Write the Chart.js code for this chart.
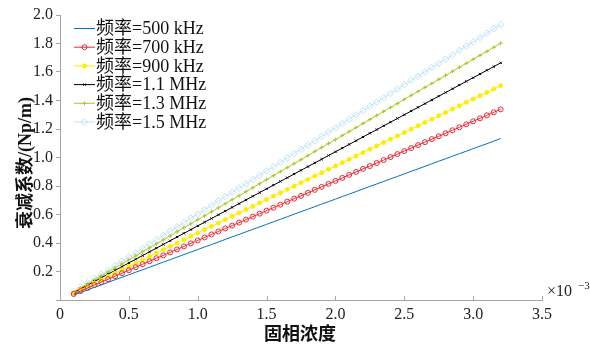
<!DOCTYPE html>
<html>
<head>
<meta charset="utf-8">
<script src="https://cdn.jsdelivr.net/npm/chart.js"></script>
<style>
  html, body { margin: 0; padding: 0; background: #fff; }
  #wrap { width: 590px; height: 347px; }
</style>
</head>
<body>
<div id="wrap"><canvas id="chart" width="590" height="347"></canvas></div>
<script>
// solid concentration (x10^-3)
const concentration = [
  0.10, 0.15, 0.20, 0.25, 0.30, 0.35, 0.40, 0.45, 0.50, 0.55, 0.60, 0.65, 0.70, 0.75, 0.80, 0.85,
  0.90, 0.95, 1.00, 1.05, 1.10, 1.15, 1.20, 1.25, 1.30, 1.35, 1.40, 1.45, 1.50, 1.55, 1.60, 1.65,
  1.70, 1.75, 1.80, 1.85, 1.90, 1.95, 2.00, 2.05, 2.10, 2.15, 2.20, 2.25, 2.30, 2.35, 2.40, 2.45,
  2.50, 2.55, 2.60, 2.65, 2.70, 2.75, 2.80, 2.85, 2.90, 2.95, 3.00, 3.05, 3.10, 3.15, 3.20
];

const seriesNames = ["频率=500 kHz", "频率=700 kHz", "频率=900 kHz", "频率=1.1 MHz", "频率=1.3 MHz", "频率=1.5 MHz"];

// attenuation coefficient (Np/m)
const att500k = [
  0.035, 0.053, 0.071, 0.089, 0.106, 0.124, 0.142, 0.159, 0.177, 0.195, 0.212, 0.230, 0.248, 0.266, 0.283, 0.301,
  0.319, 0.336, 0.354, 0.372, 0.389, 0.407, 0.425, 0.443, 0.460, 0.478, 0.496, 0.513, 0.531, 0.549, 0.566, 0.584,
  0.602, 0.620, 0.637, 0.655, 0.673, 0.690, 0.708, 0.726, 0.743, 0.761, 0.779, 0.797, 0.814, 0.832, 0.850, 0.867,
  0.885, 0.903, 0.920, 0.938, 0.956, 0.974, 0.991, 1.009, 1.027, 1.044, 1.062, 1.080, 1.097, 1.115, 1.133
];
const att700k = [
  0.042, 0.063, 0.084, 0.105, 0.125, 0.146, 0.167, 0.188, 0.209, 0.230, 0.251, 0.272, 0.293, 0.313, 0.334, 0.355,
  0.376, 0.397, 0.418, 0.439, 0.460, 0.481, 0.502, 0.522, 0.543, 0.564, 0.585, 0.606, 0.627, 0.648, 0.669, 0.690,
  0.711, 0.731, 0.752, 0.773, 0.794, 0.815, 0.836, 0.857, 0.878, 0.899, 0.920, 0.940, 0.961, 0.982, 1.003, 1.024,
  1.045, 1.066, 1.087, 1.108, 1.129, 1.149, 1.170, 1.191, 1.212, 1.233, 1.254, 1.275, 1.296, 1.317, 1.338
];
const att900k = [
  0.047, 0.071, 0.094, 0.118, 0.141, 0.165, 0.188, 0.212, 0.235, 0.259, 0.282, 0.306, 0.329, 0.353, 0.376, 0.400,
  0.423, 0.447, 0.470, 0.494, 0.517, 0.541, 0.564, 0.588, 0.611, 0.635, 0.658, 0.682, 0.705, 0.729, 0.752, 0.776,
  0.799, 0.823, 0.846, 0.870, 0.893, 0.917, 0.940, 0.964, 0.987, 1.011, 1.034, 1.058, 1.081, 1.105, 1.128, 1.152,
  1.175, 1.199, 1.222, 1.246, 1.269, 1.293, 1.316, 1.340, 1.363, 1.387, 1.410, 1.434, 1.457, 1.481, 1.504
];
const att1_1M = [
  0.052, 0.078, 0.104, 0.130, 0.156, 0.182, 0.208, 0.234, 0.260, 0.286, 0.312, 0.338, 0.364, 0.390, 0.416, 0.442,
  0.468, 0.494, 0.520, 0.546, 0.572, 0.598, 0.624, 0.650, 0.676, 0.702, 0.728, 0.754, 0.780, 0.806, 0.832, 0.858,
  0.884, 0.910, 0.936, 0.962, 0.988, 1.014, 1.040, 1.066, 1.092, 1.118, 1.144, 1.170, 1.196, 1.222, 1.248, 1.274,
  1.300, 1.326, 1.352, 1.378, 1.404, 1.430, 1.456, 1.482, 1.508, 1.534, 1.560, 1.586, 1.612, 1.638, 1.664
];
const att1_3M = [
  0.056, 0.084, 0.113, 0.141, 0.169, 0.197, 0.225, 0.253, 0.282, 0.310, 0.338, 0.366, 0.394, 0.422, 0.450, 0.479,
  0.507, 0.535, 0.563, 0.591, 0.619, 0.647, 0.676, 0.704, 0.732, 0.760, 0.788, 0.816, 0.845, 0.873, 0.901, 0.929,
  0.957, 0.985, 1.013, 1.042, 1.070, 1.098, 1.126, 1.154, 1.182, 1.210, 1.239, 1.267, 1.295, 1.323, 1.351, 1.379,
  1.408, 1.436, 1.464, 1.492, 1.520, 1.548, 1.576, 1.605, 1.633, 1.661, 1.689, 1.717, 1.745, 1.773, 1.802
];
const att1_5M = [
  0.060, 0.091, 0.121, 0.151, 0.181, 0.211, 0.242, 0.272, 0.302, 0.332, 0.362, 0.393, 0.423, 0.453, 0.483, 0.513,
  0.544, 0.574, 0.604, 0.634, 0.664, 0.695, 0.725, 0.755, 0.785, 0.815, 0.846, 0.876, 0.906, 0.936, 0.966, 0.997,
  1.027, 1.057, 1.087, 1.117, 1.148, 1.178, 1.208, 1.238, 1.268, 1.299, 1.329, 1.359, 1.389, 1.419, 1.450, 1.480,
  1.510, 1.540, 1.570, 1.601, 1.631, 1.661, 1.691, 1.721, 1.752, 1.782, 1.812, 1.842, 1.872, 1.903, 1.933
];

const serif = '"Liberation Serif", "Noto Sans CJK SC", serif';
const axisGrey = "#a6a6a6";

function toPoints(ys) {
  return concentration.map((x, i) => ({ x: x, y: ys[i] }));
}

const styles = [
  { color: "rgb(0,114,189)", pointStyle: "circle", radius: 0, fill: "rgb(0,114,189)" },
  { color: "rgb(240,40,50)", pointStyle: "circle", radius: 2.5, fill: "rgba(255,255,255,0)" },
  { color: "rgb(255,236,0)", pointStyle: "circle", radius: 2, fill: "rgb(255,236,0)" },
  { color: "rgb(0,0,0)", pointStyle: "crossRot", radius: 1.6, fill: "rgb(0,0,0)" },
  { color: "rgb(168,200,40)", pointStyle: "cross", radius: 2, fill: "rgb(168,200,40)" },
  { color: "rgb(190,226,246)", pointStyle: "rectRot", radius: 3.3, fill: "rgba(255,255,255,0)" }
];
const allSeries = [att500k, att700k, att900k, att1_1M, att1_3M, att1_5M];

const datasets = allSeries.map((ys, i) => ({
  label: seriesNames[i],
  data: toPoints(ys),
  borderColor: styles[i].color,
  backgroundColor: styles[i].fill,
  borderWidth: 1,
  pointStyle: styles[i].pointStyle,
  pointRadius: styles[i].radius,
  pointBorderColor: styles[i].color,
  pointBackgroundColor: styles[i].fill,
  pointBorderWidth: 1,
  tension: 0
}));

// legend, inward x ticks, axis titles and the x10^-3 multiplier
const decorations = {
  id: "decorations",
  afterDraw(chart) {
    const ctx = chart.ctx;
    const xs = chart.scales.x;
    const area = chart.chartArea;
    ctx.save();

    // inward ticks on the x axis
    ctx.strokeStyle = axisGrey;
    ctx.lineWidth = 1;
    xs.ticks.forEach(t => {
      if (t.value === 0) return;
      const px = Math.round(xs.getPixelForValue(t.value)) + 0.5;
      ctx.beginPath();
      ctx.moveTo(px, area.bottom);
      ctx.lineTo(px, area.bottom - 4);
      ctx.stroke();
    });

    // legend
    ctx.font = "18px " + serif;
    ctx.textBaseline = "middle";
    ctx.textAlign = "left";
    chart.data.datasets.forEach((ds, i) => {
      const y = 28.5 + 18.7 * i;
      ctx.strokeStyle = ds.borderColor;
      ctx.lineWidth = 1;
      ctx.beginPath();
      ctx.moveTo(74, y);
      ctx.lineTo(95, y);
      ctx.stroke();
      if (ds.pointRadius > 0) {
        ctx.fillStyle = ds.pointBackgroundColor;
        Chart.helpers.drawPoint(ctx, {
          pointStyle: ds.pointStyle,
          radius: ds.pointRadius,
          borderWidth: ds.pointBorderWidth,
          rotation: 0
        }, 84.5, y);
      }
      ctx.fillStyle = "#111";
      ctx.fillText(ds.label, 96, y + 1);
    });

    // x10^-3
    ctx.fillStyle = "#222";
    ctx.font = "16px " + serif;
    ctx.fillText("×10", 547, 292);
    ctx.font = "11px " + serif;
    ctx.fillText("−3", 578, 286);

    // axis titles
    ctx.fillStyle = "#111";
    ctx.font = "bold 18px " + serif;
    ctx.textAlign = "center";
    ctx.fillText("固相浓度", 300, 335);
    ctx.translate(26, 163);
    ctx.rotate(-Math.PI / 2);
    ctx.fillText("衰减系数/(Np/m)", 0, 0);
    ctx.restore();
  }
};

new Chart(document.getElementById("chart").getContext("2d"), {
  type: "line",
  data: { datasets: datasets },
  options: {
    responsive: false,
    devicePixelRatio: 1,
    animation: false,
    layout: { padding: { left: 0, right: 48, top: 15, bottom: 0 } },
    plugins: { legend: { display: false }, tooltip: { enabled: false } },
    scales: {
      x: {
        type: "linear",
        min: 0,
        max: 3.5,
        afterFit: s => { s.height = 47; },
        ticks: {
          stepSize: 0.5,
          padding: 5,
          color: "#222",
          font: { family: serif, size: 16 },
          maxRotation: 0,
          callback: v => v === 0 ? "0" : v.toFixed(1)
        },
        grid: { drawOnChartArea: false, drawTicks: false, color: axisGrey },
        border: { color: axisGrey, width: 1 }
      },
      y: {
        min: 0,
        max: 2.0,
        afterFit: s => { s.width = 60; },
        ticks: {
          stepSize: 0.2,
          padding: 3,
          color: "#222",
          font: { family: serif, size: 16 },
          callback: v => v === 0 ? "" : v.toFixed(1)
        },
        grid: { drawOnChartArea: false, drawTicks: true, tickLength: 4, color: axisGrey },
        border: { color: axisGrey, width: 1 }
      }
    }
  },
  plugins: [decorations]
});
</script>
</body>
</html>
